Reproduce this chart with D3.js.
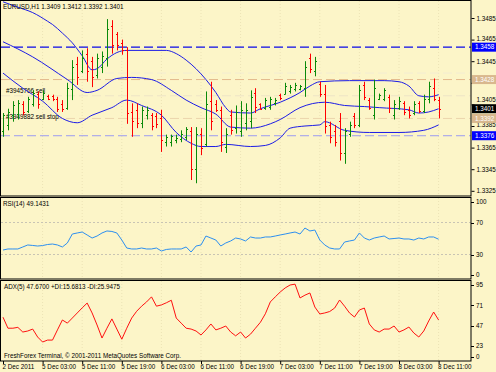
<!DOCTYPE html>
<html>
<head>
<meta charset="utf-8">
<script src="https://cdn.jsdelivr.net/npm/d3@7"></script>
<style>
  body { margin: 0; background: #fcf5c8; }
  svg text { font-family: "Liberation Sans", Arial, sans-serif; font-size: 6.3px; fill: #000; }
</style>
</head>
<body>
<svg id="chart" width="496" height="372"></svg>
<script>
// EURUSD,H1 -- bars with bands, RSI(14) and ADX(5) panes

var symbolTitle = "EURUSD,H1  1.3409 1.3412 1.3392 1.3401";
var rsiTitle = "RSI(14) 49.1431";
var adxTitle = "ADX(5) 47.6700 +DI:15.6813 -DI:25.9475";
var footer = "FreshForex Terminal, \u00a9 2001-2011 MetaQuotes Software Corp.";

// one entry per hourly bar
var opens = [1.3380,1.3386,1.3395,1.3396,1.3405,1.3399,1.3405,1.3415,1.3410,1.3413,
  1.3413,1.3410,1.3405,1.3402,1.3419,1.3442,1.3436,1.3452,1.3445,1.3432,
  1.3440,1.3448,1.3478,1.3470,1.3462,1.3455,1.3398,1.3400,1.3388,1.3395,
  1.3395,1.3394,1.3392,1.3370,1.3370,1.3372,1.3373,1.3375,1.3380,1.3345,
  1.3378,1.3368,1.3408,1.3405,1.3400,1.3366,1.3395,1.3383,1.3380,1.3388,
  1.3390,1.3416,1.3405,1.3402,1.3403,1.3406,1.3414,1.3415,1.3417,1.3419,
  1.3419,1.3420,1.3448,1.3436,1.3424,1.3415,1.3386,1.3380,1.3390,1.3360,
  1.3378,1.3394,1.3386,1.3423,1.3409,1.3395,1.3410,1.3410,1.3412,1.3395,
  1.3402,1.3406,1.3400,1.3397,1.3406,1.3399,1.3410,1.3420,1.3409];
var highs = [1.3397,1.3401,1.3408,1.3409,1.3408,1.3412,1.3418,1.3417,1.3418,1.3414,
  1.3414,1.3412,1.3409,1.3425,1.3446,1.3449,1.3455,1.3457,1.3449,1.3452,
  1.3454,1.3484,1.3483,1.3472,1.3465,1.3458,1.3406,1.3406,1.3403,1.3403,
  1.3397,1.3397,1.3400,1.3377,1.3377,1.3377,1.3381,1.3384,1.3384,1.3384,
  1.3383,1.3417,1.3426,1.3409,1.3403,1.3383,1.3400,1.3404,1.3408,1.3406,
  1.3418,1.3420,1.3406,1.3411,1.3412,1.3411,1.3415,1.3425,1.3423,1.3425,
  1.3423,1.3445,1.3452,1.3449,1.3426,1.3423,1.3389,1.3386,1.3397,1.3383,
  1.3389,1.3397,1.3423,1.3426,1.3411,1.3428,1.3415,1.3420,1.3414,1.3409,
  1.3412,1.3408,1.3403,1.3408,1.3408,1.3414,1.3426,1.3429,1.3412];
var lows = [1.3375,1.3381,1.3389,1.3391,1.3395,1.3397,1.3403,1.3401,1.3409,1.3409,
  1.3408,1.3398,1.3398,1.3400,1.3409,1.3423,1.3434,1.3426,1.3421,1.3429,
  1.3434,1.3440,1.3452,1.3455,1.3451,1.3387,1.3375,1.3383,1.3383,1.3391,
  1.3381,1.3383,1.3361,1.3366,1.3366,1.3369,1.3370,1.3372,1.3335,1.3332,
  1.3358,1.3366,1.3381,1.3398,1.3361,1.3360,1.3377,1.3378,1.3375,1.3381,
  1.3383,1.3397,1.3400,1.3400,1.3400,1.3404,1.3409,1.3414,1.3415,1.3417,
  1.3418,1.3412,1.3434,1.3431,1.3412,1.3378,1.3369,1.3366,1.3353,1.3350,
  1.3375,1.3383,1.3384,1.3409,1.3400,1.3391,1.3409,1.3408,1.3397,1.3391,
  1.3400,1.3395,1.3392,1.3395,1.3397,1.3397,1.3406,1.3408,1.3392];
var closes = [1.3395,1.3398,1.3404,1.3406,1.3398,1.3410,1.3416,1.3405,1.3416,1.3410,
  1.3410,1.3401,1.3401,1.3420,1.3440,1.3430,1.3448,1.3436,1.3430,1.3448,
  1.3450,1.3475,1.3460,1.3460,1.3455,1.3397,1.3390,1.3388,1.3400,1.3400,
  1.3385,1.3387,1.3372,1.3375,1.3376,1.3374,1.3378,1.3382,1.3345,1.3378,
  1.3365,1.3405,1.3390,1.3400,1.3370,1.3378,1.3381,1.3398,1.3400,1.3400,
  1.3412,1.3403,1.3401,1.3409,1.3410,1.3409,1.3411,1.3422,1.3421,1.3423,
  1.3422,1.3440,1.3438,1.3445,1.3415,1.3385,1.3375,1.3370,1.3360,1.3380,
  1.3386,1.3386,1.3418,1.3412,1.3402,1.3420,1.3414,1.3418,1.3402,1.3405,
  1.3408,1.3398,1.3395,1.3405,1.3399,1.3410,1.3422,1.3410,1.3401];

// band lines, [bar, price]
var upperBand = [[0,1.3500],[3,1.3495],[6,1.3490],[9,1.3482],[10,1.3479],[12,1.3471],
  [14,1.3462],[16,1.3450],[18,1.3437],[19,1.3438],[21,1.3447],[23,1.3453],[25,1.3455],
  [33,1.3455],[35,1.3452],[37,1.3446],[39,1.3438],[41,1.3428],[43,1.3416],[45,1.3402],
  [46,1.3398],[50,1.3397],[52,1.3401],[56,1.3407],[60,1.3416],[62,1.3422],[64,1.3426],
  [70,1.3427],[77,1.3427],[80,1.3426],[82,1.3422],[84,1.3413],[86,1.3412],[88,1.3414]];
var middleBand = [[0,1.3463],[6,1.3449],[13,1.3428],[17,1.3416],[19,1.3418],[23,1.3429],
  [26,1.3430],[30,1.3428],[34,1.3418],[37,1.3409],[40,1.3402],[43,1.3396],[46,1.3384],
  [50,1.3383],[54,1.3387],[56,1.3391],[60,1.3402],[65,1.3407],[69,1.3404],[73,1.3403],
  [76,1.3402],[82,1.3400],[84,1.3397],[86,1.3398],[88,1.3401]];
var lowerBand = [[0,1.3434],[4,1.3420],[8,1.3408],[12,1.3392],[15,1.3388],[18,1.3395],
  [22,1.3402],[25,1.3409],[28,1.3404],[32,1.3395],[35,1.3379],[38,1.3369],[40,1.3366],
  [43,1.3366],[45,1.3368],[50,1.3366],[53,1.3367],[56,1.3374],[58,1.3383],[61,1.3385],
  [64,1.3386],[65,1.3389],[69,1.3381],[74,1.3379],[80,1.3379],[85,1.3381],[88,1.3386]];

var rsi = [35.6,36.9,36.9,36.9,39.4,41.9,41.3,40.6,41.2,42.5,
  43.1,41.9,39.4,44.4,55.6,56.9,58.1,54.4,50.6,53.1,
  56.9,59.4,58.8,56.9,48.1,38.1,36.9,36.9,38.1,36.9,
  36.9,38.1,34.4,36.3,36.9,36.9,36.9,39.4,33.1,40.6,
  41.9,53.1,50.6,48.1,40.6,44.4,46.9,50.6,49.4,46.9,
  51.9,50.6,50.6,51.9,51.9,53.1,54.4,55.6,56.9,58.1,
  55.6,63.1,59.4,60.6,48.1,41.9,38.1,36.9,36.9,45.6,
  46.9,48.1,56.9,50.6,48.1,50.6,51.9,53.1,49.4,50.0,
  50.6,49.4,49.4,48.1,50.6,49.4,51.9,51.9,49.1];
var adx = [57,44,44,45,39.5,40.7,43,33.6,27.7,30,
  30,42,53.7,50,56,62,68,73.7,62,47.8,
  32.4,44,55,43,31,44,56,64,70,75,
  81,70,71.5,74,77,56,50,44,43,40.7,
  36,42,49,42,44,46.6,39.5,35,39.5,32.4,
  37,44,51,61,75,81,86.7,91.5,95,96,
  79.7,83,85.6,69,60.8,62,63.7,67.8,77.3,70,
  62,57.2,65.5,67.8,49,42,39.5,43,43,46.6,
  39.5,42,45.4,38.3,33.6,40.7,52.5,63.1,53.7];

var xLabels = ["2 Dec 2011","5 Dec 03:00","5 Dec 11:00","5 Dec 19:00","6 Dec 03:00","6 Dec 11:00",
  "6 Dec 19:00","7 Dec 03:00","7 Dec 11:00","7 Dec 19:00","8 Dec 03:00","8 Dec 11:00"];
var xLabelBars = [0,8,16,24,32,40,48,56,64,72,80,88];
var priceTicks = [1.3325,1.3345,1.3365,1.3385,1.3405,1.3425,1.3445,1.3465,1.3485];
var rsiTicks = [100,70,30,0];
var rsiLevels = [70,30];
var adxTicks = [95,71,47,23,0];

// price marks on the right scale
var levelPrices = [1.3458,1.3428,1.3401,1.3392,1.3376];
var orderPrices = [1.3434,1.3413,1.3392];
var orderNames = ["","#3945766 sell","#3949882 sell stop"];

///////////////////////////////////////////////////////////////////////////////
// Layout

var svg = d3.select("#chart");
var plotLeft = 1, plotRight = 471;
var panes = {
  main: {top: 1, bottom: 196},
  rsi: {top: 198, bottom: 279},
  adx: {top: 281, bottom: 361}
};

var x = d3.scaleLinear().domain([0, 88]).range([3, 438.6]);
var yPrice = d3.scaleLinear().domain([1.3325, 1.3485]).range([190.8, 18]);
var yRsi = d3.scaleLinear().domain([0, 100]).range([278.5, 198.5]);
var yAdx = d3.scaleLinear().domain([0, 95]).range([365.5, 285]);

svg.append("rect").attr("width", 496).attr("height", 372).attr("fill", "#fcf5c8");

var defs = svg.append("defs");
Object.keys(panes).forEach(function (k) {
  var p = panes[k];
  defs.append("clipPath").attr("id", "clip-" + k)
    .append("rect").attr("x", plotLeft).attr("y", p.top)
    .attr("width", plotRight - plotLeft).attr("height", p.bottom - p.top);
});

var pane = function (k) {
  return svg.append("g").attr("clip-path", "url(#clip-" + k + ")");
};

// faint vertical grid at the time labels
Object.keys(panes).forEach(function (k) {
  pane(k).selectAll("line").data(xLabelBars.slice(1)).enter().append("line")
    .attr("x1", function (d) { return x(d); }).attr("x2", function (d) { return x(d); })
    .attr("y1", panes[k].top).attr("y2", panes[k].bottom)
    .attr("stroke", "#ece3b6").attr("stroke-dasharray", "1,2");
});

///////////////////////////////////////////////////////////////////////////////
// Main pane

var main = pane("main");

var hline = function (g, price, color, dash, width) {
  g.append("line").attr("x1", plotLeft).attr("x2", plotRight)
    .attr("y1", yPrice(price)).attr("y2", yPrice(price))
    .attr("stroke", color).attr("stroke-width", width || 1)
    .attr("stroke-dasharray", dash);
};

hline(main, orderPrices[0], "#f3ecd2", "9,4");
hline(main, orderPrices[1], "#eee4c6", "9,4");
hline(main, orderPrices[2], "#ebd5ad", "9,4");
hline(main, levelPrices[1], "#e3b88b", "9,4");
hline(main, levelPrices[4], "#9d9cf0", "9,4");
hline(main, levelPrices[0], "#0a0ae8", "9,4", 1.3);

main.append("text").attr("x", 6).attr("y", yPrice(orderPrices[1]) - 3)
  .attr("fill", "#333").text(orderNames[1]);
main.append("text").attr("x", 6).attr("y", yPrice(orderPrices[2]) + 1)
  .attr("fill", "#333").text(orderNames[2]);

var bandLine = d3.line()
  .x(function (d) { return x(d[0]); })
  .y(function (d) { return yPrice(d[1]); })
  .curve(d3.curveMonotoneX);

[upperBand, middleBand, lowerBand].forEach(function (band) {
  main.append("path").attr("d", bandLine(band))
    .attr("fill", "none").attr("stroke", "#1c1ce6").attr("stroke-width", 1);
});

// OHLC bars
var bars = main.selectAll("g.bar").data(d3.range(opens.length)).enter()
  .append("g").attr("class", "bar")
  .attr("stroke", function (i) { return closes[i] >= opens[i] ? "#0a8a0a" : "#ff0000"; })
  .attr("stroke-width", 1);

bars.append("line")
  .attr("x1", function (i) { return Math.round(x(i)) + 0.5; })
  .attr("x2", function (i) { return Math.round(x(i)) + 0.5; })
  .attr("y1", function (i) { return yPrice(highs[i]); })
  .attr("y2", function (i) { return yPrice(lows[i]); });
bars.append("line")
  .attr("x1", function (i) { return Math.round(x(i)) - 1; })
  .attr("x2", function (i) { return Math.round(x(i)); })
  .attr("y1", function (i) { return Math.round(yPrice(opens[i])) + 0.5; })
  .attr("y2", function (i) { return Math.round(yPrice(opens[i])) + 0.5; });
bars.append("line")
  .attr("x1", function (i) { return Math.round(x(i)) + 1; })
  .attr("x2", function (i) { return Math.round(x(i)) + 2; })
  .attr("y1", function (i) { return Math.round(yPrice(closes[i])) + 0.5; })
  .attr("y2", function (i) { return Math.round(yPrice(closes[i])) + 0.5; });

svg.append("text").attr("x", 3).attr("y", 9).text(symbolTitle);

///////////////////////////////////////////////////////////////////////////////
// RSI pane

var rsiPane = pane("rsi");
rsiLevels.forEach(function (v) {
  rsiPane.append("line").attr("x1", plotLeft).attr("x2", plotRight)
    .attr("y1", yRsi(v)).attr("y2", yRsi(v))
    .attr("stroke", "#c8c4b4").attr("stroke-dasharray", "2,2");
});
rsiPane.append("path")
  .attr("d", d3.line().x(function (d, i) { return x(i); }).y(function (d) { return yRsi(d); })(rsi))
  .attr("fill", "none").attr("stroke", "#2c8ff0").attr("stroke-width", 1);
svg.append("text").attr("x", 3).attr("y", 206).text(rsiTitle);

///////////////////////////////////////////////////////////////////////////////
// ADX pane

var adxPane = pane("adx");
adxPane.append("path")
  .attr("d", d3.line().x(function (d, i) { return x(i); }).y(function (d) { return yAdx(d); })(adx))
  .attr("fill", "none").attr("stroke", "#ff1010").attr("stroke-width", 1);
svg.append("text").attr("x", 4).attr("y", 289).text(adxTitle);
svg.append("text").attr("x", 4).attr("y", 358).text(footer);

///////////////////////////////////////////////////////////////////////////////
// Frames and scales

Object.keys(panes).forEach(function (k) {
  var p = panes[k];
  svg.append("rect").attr("x", plotLeft - 0.5).attr("y", p.top - 0.5)
    .attr("width", plotRight - plotLeft + 0.5).attr("height", p.bottom - p.top + 0.5)
    .attr("fill", "none").attr("stroke", "#000").attr("stroke-width", 1);
});

var priceAxis = svg.append("g").attr("transform", "translate(" + (plotRight + 0.5) + ",0)")
  .call(d3.axisRight(yPrice).tickValues(priceTicks).tickSize(3).tickPadding(2)
    .tickFormat(d3.format(".4f")));
priceAxis.select(".domain").remove();
priceAxis.selectAll("text").style("font-size", "6.3px");

// a tick label that sits under a price mark is hidden, one just above it is nudged up
priceAxis.selectAll(".tick").each(function (d) {
  var gap = d3.min(levelPrices, function (p) { return Math.abs(yPrice(p) - yPrice(d)); });
  var t = d3.select(this).select("text");
  if (gap < 4) t.remove();
  else if (gap < 9) t.attr("dy", (0.32 - (9 - gap) / 6.3) + "em");
});

// clamped labels for the indicator panes
var sideLabels = function (ticks, scale, p) {
  var g = svg.append("g");
  ticks.forEach(function (v) {
    var yy = Math.max(p.top + 4, Math.min(p.bottom - 4, scale(v)));
    g.append("line").attr("x1", plotRight).attr("x2", plotRight + 3)
      .attr("y1", Math.round(yy) + 0.5).attr("y2", Math.round(yy) + 0.5).attr("stroke", "#000");
    g.append("text").attr("x", plotRight + 5).attr("y", yy + 2.2).text(v);
  });
};
sideLabels(rsiTicks, yRsi, panes.rsi);
sideLabels(adxTicks, yAdx, panes.adx);

// price marks
var levelFill = ["#0000ff", "#d9b88e", "#000000", "#d9b88e", "#0000ff"];
levelPrices.forEach(function (p, i) {
  var yy = yPrice(p);
  svg.append("rect").attr("x", plotRight + 1).attr("y", yy - 4.5)
    .attr("width", 25).attr("height", 9).attr("fill", levelFill[i]);
  svg.append("text").attr("x", plotRight + 4).attr("y", yy + 2.2)
    .style("fill", "#fff").text(d3.format(".4f")(p));
});

var timeAxis = svg.append("g").attr("transform", "translate(0," + panes.adx.bottom + ")")
  .call(d3.axisBottom(x).tickValues(xLabelBars).tickSize(3).tickPadding(1)
    .tickFormat(function (d, i) { return xLabels[i]; }));
timeAxis.select(".domain").remove();
timeAxis.selectAll("text").attr("text-anchor", "start").attr("x", -1).style("font-size", "6.3px");
</script>
</body>
</html>
